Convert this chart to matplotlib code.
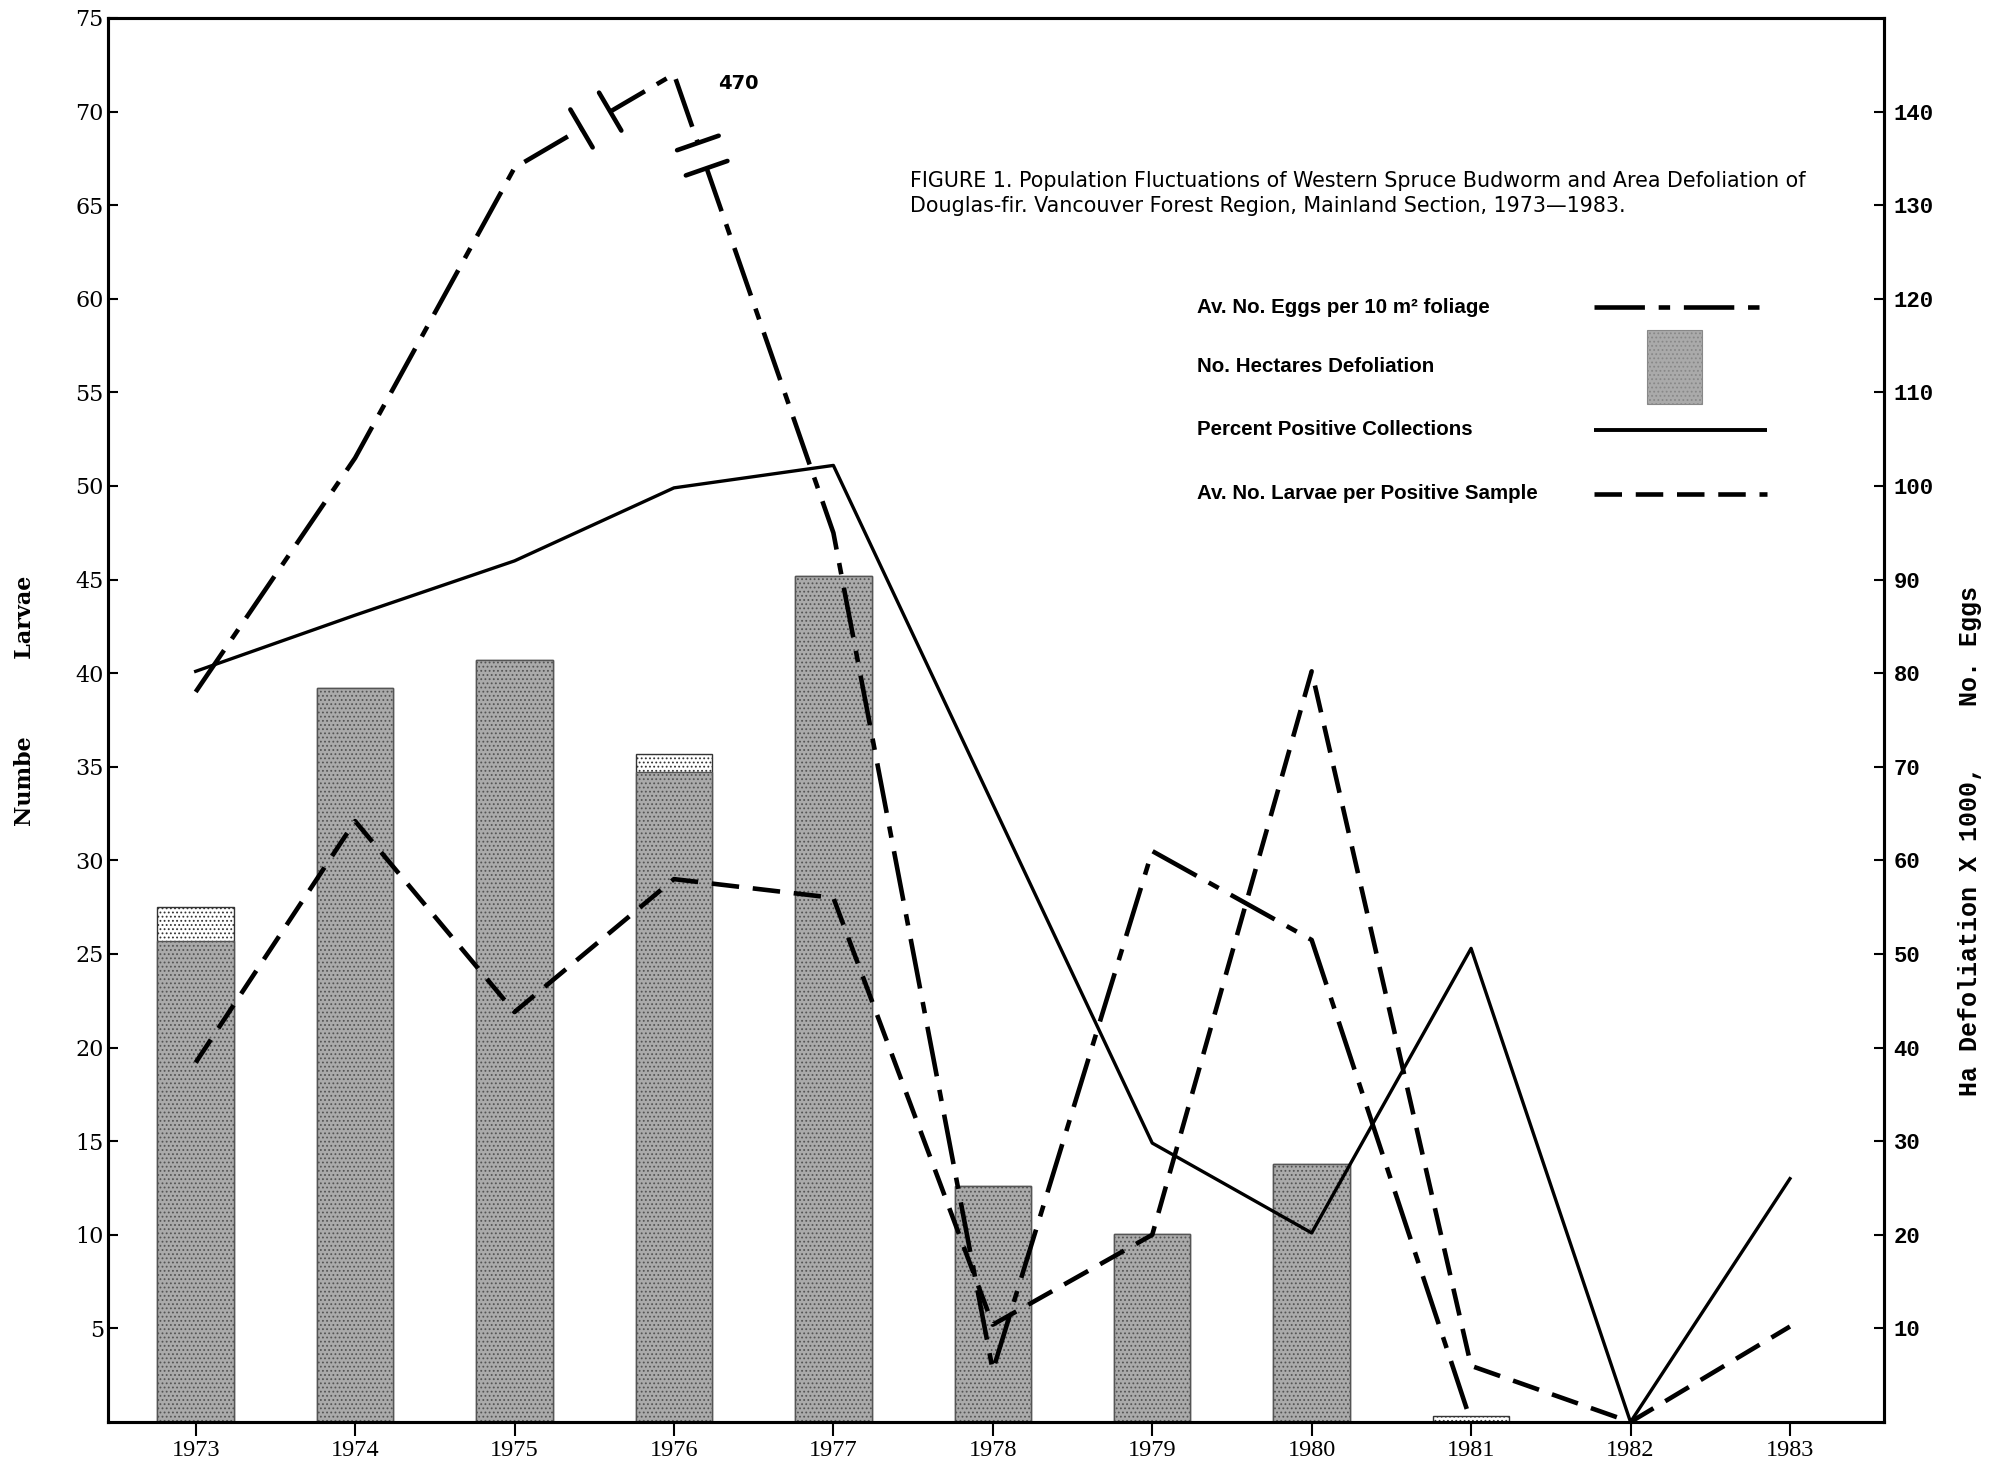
import numpy as np
import matplotlib
matplotlib.use("Agg")
import matplotlib.pyplot as plt
from matplotlib.patches import Rectangle

# ---- data ----
years = [1973, 1974, 1975, 1976, 1977, 1978, 1979, 1980, 1981, 1982, 1983]
# No. hectares defoliation (x 1000, right axis): full bar and dense-screen part
ha_defol = [55.0, 78.4, 81.4, 71.4, 90.4, 25.2, 20.1, 27.6, 0.6, 0.0, 0.0]
ha_defol_dense = [51.4, 78.4, 81.4, 69.4, 90.4, 25.2, 20.1, 27.6, 0.0, 0.0, 0.0]
# Av. no. eggs per 10 m2 foliage (right axis); 1976 = 470, drawn broken at 144
eggs = [78, 103, 134, 470, 95, 5.5, 61, 51.5, 0, np.nan, np.nan]
eggs_break = 144
# Percent positive collections (left axis)
pct_positive = [40.1, 43.1, 46.0, 49.9, 51.1, 33.0, 14.9, 10.1, 25.3, 0.0, 13.0]
# Av. no. larvae per positive sample (left axis)
larvae = [19.2, 32.1, 21.9, 29.0, 28.0, 5.2, 10.0, 40.1, 3.0, 0.0, 5.1]

left_ticks = list(range(5, 80, 5))
right_ticks = list(range(10, 150, 10))

plt.rcParams["hatch.linewidth"] = 0.8

fig = plt.figure(figsize=(19.96, 14.68), dpi=100)
ax = fig.add_axes([108 / 1996, 46 / 1468, 1776 / 1996, 1404 / 1468])
ax2 = ax.twinx()
ax.set_zorder(ax2.get_zorder() + 1)
ax.patch.set_visible(False)

x = np.array(years, dtype=float)
ax.set_xlim(1972.45, 1983.59)
ax.set_ylim(0, 75)
ax2.set_ylim(0, 150)

# bars: light screen cap first, dense screen over it
ax2.bar(x, ha_defol, width=0.48, color="white", edgecolor="#333333",
        hatch="....", linewidth=1.0, zorder=1)
ax2.bar(x, ha_defol_dense, width=0.48, color="#aaaaaa", edgecolor="#555555",
        hatch="....", linewidth=1.0, zorder=1.1)

# eggs line, clipped at the axis break
eggs_drawn = np.minimum(np.array(eggs, dtype=float), eggs_break)
ax2.plot(x, eggs_drawn, color="black", lw=3.3, linestyle=(0, (11, 3, 2.5, 3)),
         solid_capstyle="butt", zorder=3)

# break marks on the two segments next to the 1976 peak
def break_marks(i0, i1, t_a, t_b, half=22):
    p0 = ax2.transData.transform((x[i0], eggs_drawn[i0]))
    p1 = ax2.transData.transform((x[i1], eggs_drawn[i1]))
    d = p1 - p0
    n = np.array([-d[1], d[0]]) / np.hypot(*d)
    inv = ax2.transData.inverted()
    pa = p0 + t_a * d
    pb = p0 + t_b * d
    gap = inv.transform(np.array([pa, pb]))
    ax2.plot(gap[:, 0], gap[:, 1], color="white", lw=7, solid_capstyle="butt", zorder=3.5)
    for p in (pa, pb):
        seg = inv.transform(np.array([p - half * n, p + half * n]))
        ax2.plot(seg[:, 0], seg[:, 1], color="black", lw=3.3, solid_capstyle="round", zorder=4)

peak = int(np.nanargmax(eggs))
break_marks(peak - 1, peak, 0.42, 0.60)
break_marks(peak, peak + 1, 0.15, 0.205)
ax2.annotate(f"{eggs[peak]:.0f}", xy=(x[peak], eggs_drawn[peak]), xytext=(32, -7),
             textcoords="offset points", ha="left", va="center",
             fontsize=14, fontweight="bold", family="DejaVu Sans")

# left-axis lines
ax.plot(x, pct_positive, color="black", lw=2.4, zorder=5)
ax.plot(x, larvae, color="black", lw=3.3, linestyle=(0, (6, 3)), zorder=5)

# axes styling
for a in (ax, ax2):
    for s in a.spines.values():
        s.set_linewidth(2.2)
ax.set_xticks(years)
ax.set_xticklabels([str(y) for y in years], family="Liberation Serif", fontsize=17.5)
ax.tick_params(axis="x", direction="out", length=10, width=1.5, pad=3)
ax.set_yticks(left_ticks)
ax.set_yticklabels([str(v) for v in left_ticks], family="DejaVu Serif", fontsize=16)
ax.tick_params(axis="y", direction="in", length=7, width=1.5, pad=3)
ax2.set_yticks(right_ticks)
ax2.set_yticklabels([str(v) for v in right_ticks], family="Liberation Mono",
                    fontsize=16, fontweight="bold")
ax2.tick_params(axis="y", direction="in", length=7, width=1.5, pad=7)

ax.set_ylabel("Numbe          Larvae", family="DejaVu Serif", fontweight="bold", fontsize=16)
ax.yaxis.set_label_coords(-0.0405, 0.514)
ax2.set_ylabel("Ha Defoliation X 1000,    No. Eggs", family="Liberation Mono",
               fontweight="bold", fontsize=18)
ax2.yaxis.set_label_coords(1.0417, 0.414)

# title and legend block
ax.text(0.4516, 0.891,
        "FIGURE 1. Population Fluctuations of Western Spruce Budworm and Area Defoliation of\n"
        "Douglas-fir. Vancouver Forest Region, Mainland Section, 1973\u20141983.",
        transform=ax.transAxes, ha="left", va="top", family="DejaVu Sans",
        fontsize=14.9, linespacing=1.3)

legend_rows = [
    ("Av. No. Eggs per 10 m\u00b2 foliage", 0.794, dict(linestyle=(0, (11, 3, 2.5, 3)), lw=3.3)),
    ("No. Hectares Defoliation", 0.752, None),
    ("Percent Positive Collections", 0.7066, dict(linestyle="-", lw=2.8)),
    ("Av. No. Larvae per Positive Sample", 0.661, dict(linestyle=(0, (6, 3)), lw=3.3)),
]
for label, yy, style in legend_rows:
    ax.text(0.613, yy, label, transform=ax.transAxes, ha="left", va="center",
            family="Liberation Sans", fontweight="bold", fontsize=14.8)
    if style is None:
        ax.add_patch(Rectangle((0.8666, 0.725), 0.0309, 0.0528, transform=ax.transAxes,
                               facecolor="#aaaaaa", edgecolor="#888888", hatch="....",
                               linewidth=0.8, zorder=6))
    else:
        ax.plot([0.8367, 0.9341], [yy, yy], transform=ax.transAxes, color="black",
                solid_capstyle="butt", **style)

fig.savefig("out.png", dpi=100)
